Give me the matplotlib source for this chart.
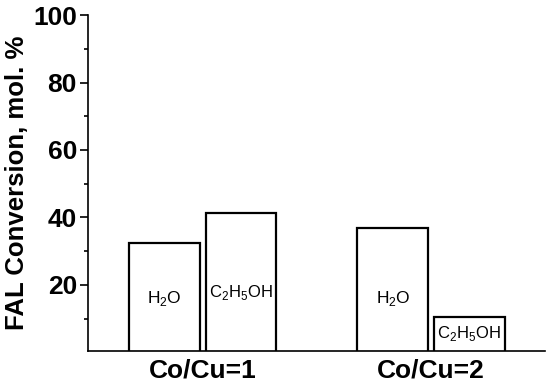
import matplotlib
matplotlib.use("Agg")
import matplotlib.pyplot as plt
import numpy as np
from matplotlib.ticker import MultipleLocator

plt.rcParams['font.family'] = ['Liberation Sans', 'DejaVu Sans']
plt.rcParams['mathtext.fontset'] = 'custom'
plt.rcParams['mathtext.rm'] = 'Liberation Sans'

groups = ["Co/Cu=1", "Co/Cu=2"]
solvents = ["H$_2$O", "C$_2$H$_5$OH"]
h2o_values = [32.4, 36.9]
ethanol_values = [41.3, 10.5]
label_y_h2o = [16, 16]
label_y_eth = [17.8, 5.7]

fig = plt.figure(figsize=(5.5, 3.85), dpi=100)
ax = fig.add_axes([0.16, 0.088, 0.831, 0.873])

x = np.arange(len(groups))
w = 0.311
off = 0.167
ax.bar(x - off, h2o_values, width=w, facecolor='white', edgecolor='black', linewidth=1.6)
ax.bar(x + off, ethanol_values, width=w, facecolor='white', edgecolor='black', linewidth=1.6)

for i in range(len(groups)):
    ax.text(x[i] - off, label_y_h2o[i], solvents[0], ha='center', va='center', fontsize=12.5)
    ax.text(x[i] + off, label_y_eth[i], solvents[1], ha='center', va='center', fontsize=12)

ax.set_xlim(-0.504, 1.5)
ax.set_ylim(0.4, 100)
ax.set_xticks(x)
ax.set_xticklabels(groups, fontsize=19, fontweight='bold')
ax.tick_params(axis='x', length=0, pad=5)
ax.set_yticks([20, 40, 60, 80, 100])
ax.yaxis.set_minor_locator(MultipleLocator(10))
ax.tick_params(axis='y', which='major', length=6, width=1.2, labelsize=19, pad=2)
ax.tick_params(axis='y', which='minor', length=3, width=1.2)
for lab in ax.get_yticklabels():
    lab.set_fontweight('bold')
ax.set_ylabel("FAL Conversion, mol. %", fontsize=18.5, fontweight='bold')
ax.yaxis.set_label_coords(-0.13, 0.5)

ax.spines['top'].set_visible(False)
ax.spines['right'].set_visible(False)
ax.spines['left'].set_linewidth(1.2)
ax.spines['bottom'].set_linewidth(1.2)

fig.savefig("out.png", dpi=100)
